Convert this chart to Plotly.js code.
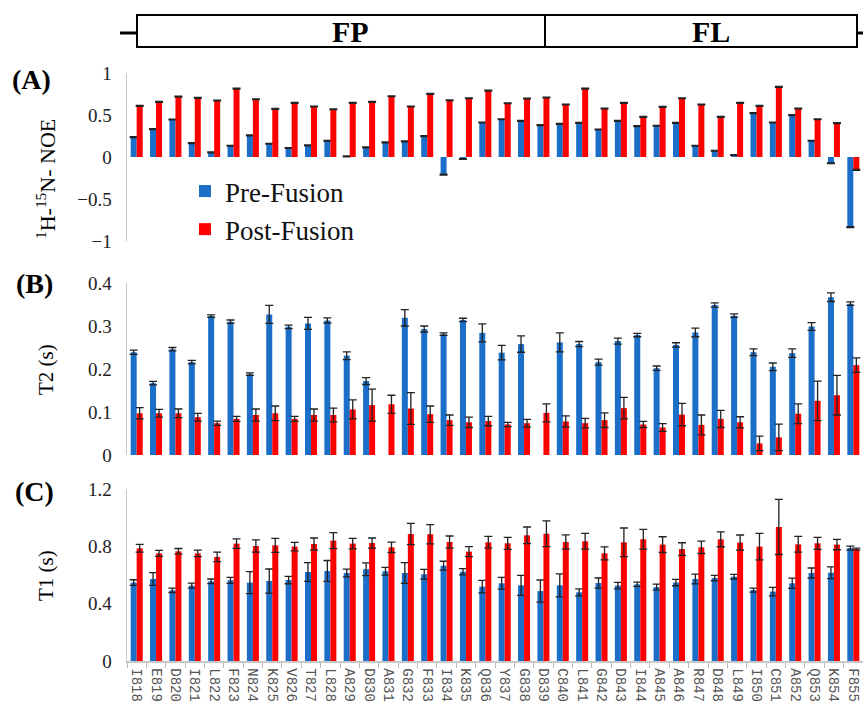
<!DOCTYPE html>
<html>
<head>
<meta charset="utf-8">
<script src="https://cdn.plot.ly/plotly-3.0.1.min.js"></script>
<style>html,body{margin:0;padding:0;background:#fff;}#chart{width:863px;height:706px;}</style>
</head>
<body>
<div id="chart"></div>
<script>
const cats = ["I818","E819","D820","I821","L822","F823","N824","K825","V826","T827","L828","A829","D830","A831","G832","F833","I834","K835","Q836","Y837","G838","D839","C840","L841","G842","D843","I844","A845","A846","R847","D848","L849","I850","C851","A852","Q853","K854","F855"];

const noePre  = [0.237,0.332,0.447,0.166,0.055,0.134,0.257,0.158,0.107,0.138,0.194,0.008,0.115,0.174,0.186,0.249,-0.21,-0.024,0.411,0.45,0.43,0.379,0.395,0.407,0.328,0.43,0.368,0.372,0.407,0.134,0.075,0.024,0.522,0.411,0.498,0.194,-0.075,-0.834];
const noePost = [0.609,0.656,0.719,0.704,0.672,0.814,0.688,0.573,0.644,0.601,0.569,0.644,0.656,0.723,0.601,0.751,0.676,0.700,0.79,0.64,0.696,0.708,0.625,0.814,0.577,0.644,0.478,0.597,0.70,0.625,0.478,0.644,0.609,0.834,0.577,0.45,0.403,-0.154];
const noeErr  = [0.005,0.005,0.005,0.005,0.005,0.005,0.005,0.005,0.005,0.005,0.005,0.005,0.005,0.005,0.005,0.005,0.005,0.005,0.005,0.005,0.005,0.005,0.005,0.005,0.005,0.005,0.005,0.005,0.005,0.005,0.005,0.005,0.005,0.005,0.005,0.005,0.005,0.005];

const t2Pre     = [0.239,0.167,0.246,0.216,0.323,0.310,0.188,0.327,0.298,0.306,0.313,0.231,0.172,null,0.319,0.293,0.281,0.314,0.284,0.238,0.258,null,0.262,0.258,0.216,0.265,0.279,0.202,0.256,0.285,0.349,0.324,0.239,0.205,0.237,0.299,0.367,0.352];
const t2PreErr  = [0.005,0.004,0.004,0.004,0.003,0.004,0.003,0.021,0.004,0.014,0.006,0.009,0.008,0,0.019,0.007,0.003,0.004,0.021,0.017,0.019,0,0.022,0.006,0.007,0.007,0.004,0.005,0.005,0.010,0.005,0.004,0.008,0.009,0.010,0.009,0.010,0.004];
const t2Post    = [0.097,0.097,0.097,0.088,0.074,0.084,0.093,0.097,0.084,0.093,0.093,0.106,0.116,0.118,0.108,0.095,0.081,0.076,0.079,0.071,0.074,0.098,0.078,0.074,0.081,0.109,0.071,0.064,0.094,0.070,0.084,0.076,0.027,0.041,0.096,0.126,0.139,0.209];
const t2PostErr = [0.013,0.009,0.010,0.009,0.005,0.006,0.014,0.017,0.006,0.014,0.016,0.022,0.037,0.021,0.037,0.019,0.012,0.012,0.011,0.005,0.009,0.021,0.013,0.011,0.017,0.025,0.007,0.009,0.026,0.023,0.020,0.013,0.017,0.031,0.023,0.046,0.046,0.017];

const t1Pre     = [0.547,0.572,0.493,0.526,0.556,0.563,0.547,0.558,0.565,0.621,0.628,0.614,0.640,0.626,0.614,0.605,0.665,0.623,0.519,0.542,0.528,0.488,0.528,0.479,0.544,0.526,0.535,0.516,0.547,0.572,0.579,0.588,0.495,0.484,0.542,0.614,0.616,0.788];
const t1PreErr  = [0.020,0.045,0.015,0.017,0.016,0.021,0.077,0.084,0.026,0.066,0.073,0.027,0.044,0.027,0.072,0.034,0.031,0.022,0.044,0.041,0.070,0.077,0.080,0.024,0.035,0.023,0.015,0.020,0.022,0.034,0.019,0.016,0.014,0.029,0.036,0.035,0.041,0.014];
const t1Post    = [0.786,0.751,0.765,0.751,0.726,0.819,0.802,0.807,0.798,0.816,0.840,0.819,0.823,0.793,0.886,0.884,0.830,0.763,0.828,0.821,0.877,0.888,0.830,0.835,0.751,0.828,0.849,0.812,0.781,0.793,0.849,0.826,0.798,0.935,0.814,0.821,0.812,0.781];
const t1PostErr = [0.027,0.021,0.020,0.023,0.033,0.033,0.043,0.049,0.029,0.042,0.056,0.037,0.035,0.036,0.074,0.067,0.042,0.035,0.041,0.042,0.058,0.090,0.050,0.055,0.045,0.100,0.069,0.055,0.044,0.043,0.052,0.053,0.093,0.192,0.055,0.042,0.036,0.007];

const seriesNames = ["Pre-Fusion","Post-Fusion"];
const blue = "#1b6fc8", red = "#ff0000";

function bar(y, err, name, color, xa, ya, showleg) {
  return {
    type: "bar", x: cats, y: y, name: name, xaxis: xa, yaxis: ya,
    marker: {color: color, line: {width: 0}},
    showlegend: showleg, legendgroup: name,
    error_y: {type: "data", array: err, visible: true, color: "#222", thickness: 1.3, width: 4},
    hoverinfo: "x+y"
  };
}

const data = [
  bar(noePre, noeErr, seriesNames[0], blue, "x", "y", true),
  bar(noePost, noeErr, seriesNames[1], red, "x", "y", true),
  bar(t2Pre, t2PreErr, seriesNames[0], blue, "x2", "y2", false),
  bar(t2Post, t2PostErr, seriesNames[1], red, "x2", "y2", false),
  bar(t1Pre, t1PreErr, seriesNames[0], blue, "x3", "y3", false),
  bar(t1Post, t1PostErr, seriesNames[1], red, "x3", "y3", false)
];

const serif = "Liberation Serif, Times New Roman, serif";
const tickFont = {family: serif, size: 19, color: "#222"};
const axLine = "#c8c8c8";

function yax(range, dtick, domain, anchor) {
  return {domain: domain, range: range, dtick: dtick, anchor: anchor,
    showline: true, linecolor: axLine, linewidth: 1.5, showgrid: false, zeroline: false,
    ticks: "", tickfont: tickFont, ticklabelstandoff: 10, fixedrange: true};
}
function xax(anchor, show) {
  return {anchor: anchor, type: "category", showgrid: false, zeroline: false,
    showline: show, linecolor: axLine, linewidth: 1.5,
    ticks: show ? "outside" : "", ticklen: 5, tickcolor: "#bbb", tickson: "boundaries",
    showticklabels: show, tickangle: 90, ticklabelstandoff: 3,
    tickfont: {family: "Liberation Mono, Courier New, monospace", size: 14, color: "#555"},
    fixedrange: true};
}

// pixel helpers for paper coords (plot area: x 127..863, y 73..661)
const L = 127, R = 863, T = 73, B = 661;
const px = v => (v - L) / (R - L);
const py = v => (B - v) / (B - T);

function note(text, x, y, size, angle) {
  return {text: text, xref: "paper", yref: "paper", x: px(x), y: py(y),
    xanchor: "center", yanchor: "middle", textangle: angle || 0, showarrow: false,
    font: {family: serif, size: size, color: "#000"}};
}

const layout = {
  width: 863, height: 706,
  margin: {l: L, r: 863 - R, t: T, b: 706 - B},
  paper_bgcolor: "#fff", plot_bgcolor: "rgba(0,0,0,0)",
  barmode: "group", bargap: 0.38, bargroupgap: 0,
  font: {family: serif, color: "#222"},
  xaxis: xax("y", false),
  xaxis2: xax("y2", false),
  xaxis3: xax("y3", true),
  yaxis: yax([-1, 1], 0.5, [py(241), 1], "x"),
  yaxis2: yax([0, 0.4], 0.1, [py(455), py(283)], "x2"),
  yaxis3: yax([0, 1.2], 0.4, [0, py(489)], "x3"),
  legend: {x: px(185), y: py(167), xanchor: "left", yanchor: "top",
    bgcolor: "rgba(0,0,0,0)", font: {family: serif, size: 27, color: "#111"},
    traceorder: "normal", tracegroupgap: 0, itemwidth: 30},
  showlegend: true,
  shapes: [
    {type: "rect", xref: "paper", yref: "paper", x0: px(137), x1: px(857), y0: py(47), y1: py(15), line: {color: "#000", width: 2}},
    {type: "line", xref: "paper", yref: "paper", x0: px(545), x1: px(545), y0: py(47), y1: py(15), line: {color: "#000", width: 2}},
    {type: "line", xref: "paper", yref: "paper", x0: px(120), x1: px(137), y0: py(33), y1: py(33), line: {color: "#000", width: 3}},
    {type: "line", xref: "paper", yref: "paper", x0: px(857), x1: px(863), y0: py(33), y1: py(33), line: {color: "#000", width: 3}}
  ],
  annotations: [
    note("<b>FP</b>", 350, 31, 30),
    note("<b>FL</b>", 711, 31, 30),
    note("<b>(A)</b>", 31, 79, 28),
    note("<b>(B)</b>", 34, 283, 28),
    note("<b>(C)</b>", 34, 491, 28),
    note("<sup>1</sup>H-<sup>15</sup>N- NOE", 46, 179, 22, -90),
    note("T2 (s)", 46, 370, 21, -90),
    note("T1 (s)", 46, 576, 21, -90)
  ]
};

Plotly.newPlot("chart", data, layout, {displayModeBar: false, staticPlot: true});
</script>
</body>
</html>
